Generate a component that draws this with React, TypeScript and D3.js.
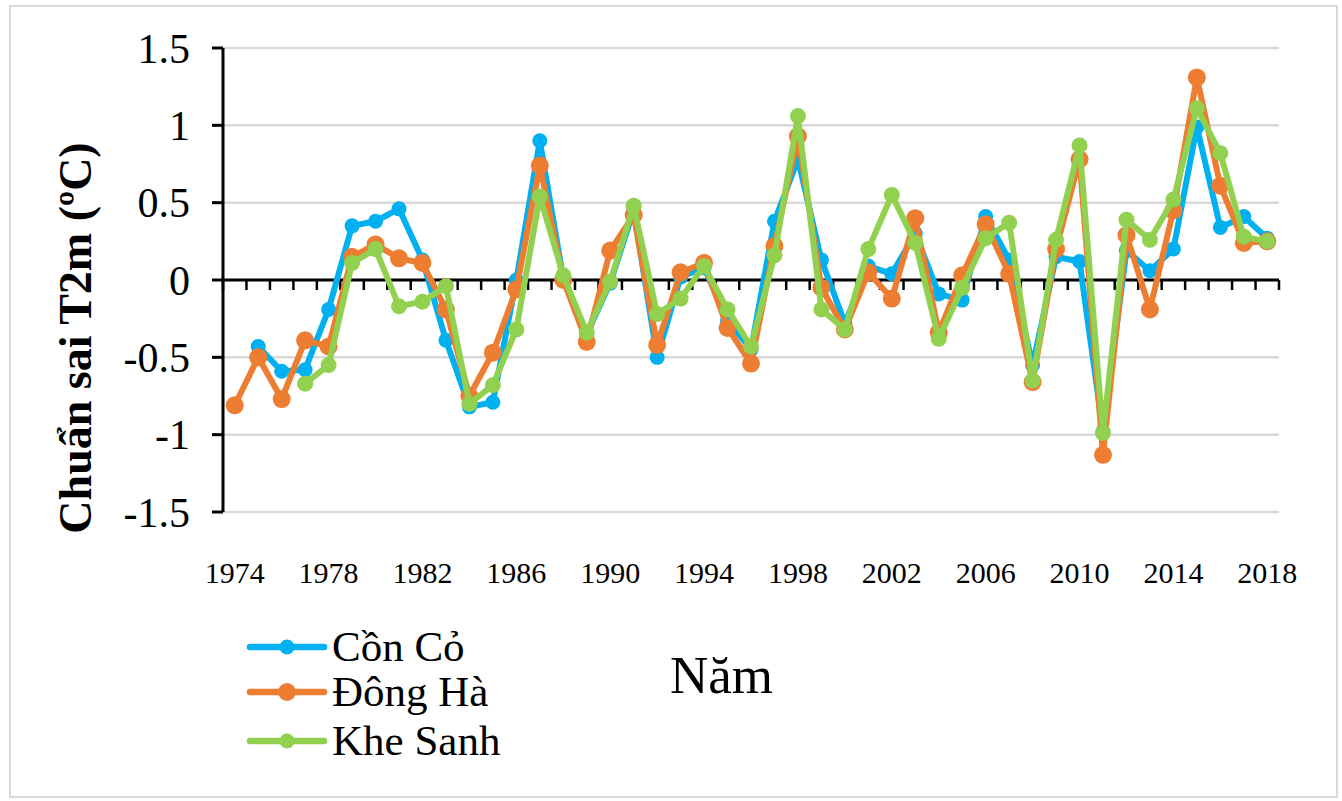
import React from "react";
import * as d3 from "d3";

const years: number[] = d3.range(1974, 2019);

const conCo: (number | null)[] = [
  null, -0.43, -0.59, -0.58, -0.19, 0.35, 0.38, 0.46, 0.13, -0.39,
  -0.82, -0.79, 0.0, 0.9, 0.01, -0.35, -0.02, 0.45, -0.5, 0.02,
  0.08, -0.26, -0.45, 0.38, 0.78, 0.13, -0.28, 0.09, 0.04, 0.3,
  -0.09, -0.13, 0.41, 0.13, -0.55, 0.15, 0.12, -0.98, 0.19, 0.06,
  0.2, 0.99, 0.34, 0.41, 0.27,
];

const dongHa: (number | null)[] = [
  -0.81, -0.5, -0.77, -0.39, -0.43, 0.15, 0.23, 0.14, 0.11, -0.19,
  -0.75, -0.47, -0.06, 0.74, 0.0, -0.4, 0.19, 0.42, -0.42, 0.05,
  0.11, -0.31, -0.54, 0.22, 0.93, -0.05, -0.32, 0.05, -0.12, 0.4,
  -0.34, 0.03, 0.36, 0.04, -0.66, 0.2, 0.78, -1.13, 0.29, -0.19,
  0.45, 1.31, 0.61, 0.24, 0.25,
];

const kheSanh: (number | null)[] = [
  null, null, null, -0.67, -0.55, 0.11, 0.2, -0.17, -0.14, -0.04,
  -0.8, -0.68, -0.32, 0.54, 0.03, -0.34, -0.01, 0.48, -0.22, -0.12,
  0.09, -0.19, -0.43, 0.16, 1.06, -0.19, -0.32, 0.2, 0.55, 0.24,
  -0.38, -0.05, 0.27, 0.37, -0.65, 0.26, 0.87, -0.99, 0.39, 0.26,
  0.52, 1.11, 0.82, 0.28, 0.25,
];

const yTicks: number[] = [-1.5, -1, -0.5, 0, 0.5, 1, 1.5];
const yearLabels: number[] = d3.range(1974, 2019, 4);

const seriesNames = ["Cồn Cỏ", "Đông Hà", "Khe Sanh"];
const seriesColors = ["#00B0F0", "#ED7D31", "#92D050"];
const seriesRadius = [7.5, 9, 8];
const seriesValues = [conCo, dongHa, kheSanh];

const W = 1342;
const H = 801;
const plotLeft = 223;
const plotRight = 1279;
const plotTop = 48;
const plotBottom = 512;
const serif = "'Liberation Serif', 'Times New Roman', serif";

export default function App() {
  const x = d3
    .scaleBand<number>()
    .domain(years)
    .range([plotLeft, plotRight])
    .padding(0);
  const cx = (yr: number) => (x(yr) as number) + x.bandwidth() / 2;
  const y = d3.scaleLinear().domain([-1.5, 1.5]).range([plotBottom, plotTop]);

  const line = d3
    .line<[number, number | null]>()
    .defined((d) => d[1] !== null)
    .x((d) => cx(d[0]))
    .y((d) => y(d[1] as number));

  const boundaries = d3.range(years.length + 1).map((i) => plotLeft + i * x.bandwidth());
  const legendY = [647, 692, 741];

  return (
    <svg
      width={W}
      height={H}
      style={{ position: "absolute", left: 0, top: 0, background: "#fff" }}
      fontFamily={serif}
    >
      <rect x={0} y={0} width={W} height={H} fill="#fff" />
      <rect x={10} y={6} width={1327} height={791} fill="none" stroke="#D9D9D9" strokeWidth={2} />

      {/* gridlines */}
      {yTicks.map((t) => (
        <line
          key={"g" + t}
          x1={plotLeft}
          x2={plotRight}
          y1={y(t)}
          y2={y(t)}
          stroke="#D9D9D9"
          strokeWidth={2.5}
        />
      ))}

      {/* y axis */}
      <line x1={plotLeft} x2={plotLeft} y1={y(1.5)} y2={y(-1.5)} stroke="#000" strokeWidth={3} />
      {yTicks.map((t) => (
        <g key={"yt" + t}>
          <line x1={plotLeft - 11} x2={plotLeft} y1={y(t)} y2={y(t)} stroke="#000" strokeWidth={3} />
          <text
            x={190}
            y={y(t)}
            dy="0.35em"
            textAnchor="end"
            fontSize={42}
            fill="#000"
          >
            {String(t)}
          </text>
        </g>
      ))}

      {/* x axis at zero */}
      <line x1={plotLeft} x2={plotRight} y1={y(0)} y2={y(0)} stroke="#000" strokeWidth={3} />
      {boundaries.map((bx, i) => (
        <line key={"xt" + i} x1={bx} x2={bx} y1={y(0)} y2={y(0) + 10} stroke="#000" strokeWidth={2.5} />
      ))}
      {yearLabels.map((yr) => (
        <text key={"xl" + yr} x={cx(yr)} y={583} textAnchor="middle" fontSize={30} fill="#000">
          {yr}
        </text>
      ))}

      {/* series */}
      {seriesValues.map((vals, si) => {
        const pts = years.map((yr, i) => [yr, vals[i]] as [number, number | null]);
        return (
          <g key={"s" + si}>
            <path d={line(pts) ?? ""} fill="none" stroke={seriesColors[si]} strokeWidth={6} strokeLinejoin="round" />
            {pts
              .filter((p) => p[1] !== null)
              .map((p) => (
                <circle
                  key={p[0]}
                  cx={cx(p[0])}
                  cy={y(p[1] as number)}
                  r={seriesRadius[si]}
                  fill={seriesColors[si]}
                />
              ))}
          </g>
        );
      })}

      {/* y axis title */}
      <text
        transform="translate(91, 338) rotate(-90)"
        textAnchor="middle"
        fontSize={46}
        fontWeight="bold"
        fill="#000"
      >
        Chuẩn sai T2m (ºC)
      </text>

      {/* x axis title */}
      <text x={670} y={693} fontSize={53} fill="#000">
        Năm
      </text>

      {/* legend */}
      {seriesNames.map((name, i) => {
        const ly = legendY[i];
        return (
          <g key={"lg" + i}>
            <line x1={250} x2={324} y1={ly} y2={ly} stroke={seriesColors[i]} strokeWidth={6.5} strokeLinecap="round" />
            <circle cx={287} cy={ly} r={i === 1 ? 9 : 7.5} fill={seriesColors[i]} />
            <text x={332} y={ly + 14} fontSize={43} fill="#000">
              {name}
            </text>
          </g>
        );
      })}
    </svg>
  );
}
